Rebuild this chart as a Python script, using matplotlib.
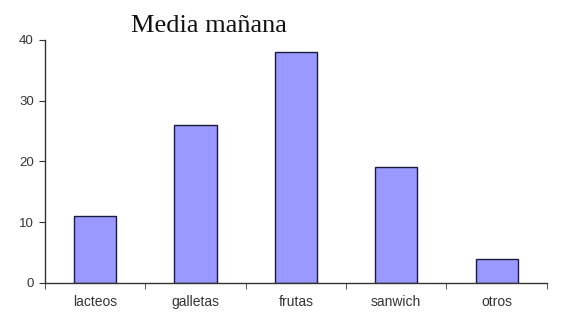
import matplotlib
matplotlib.use("Agg")
import matplotlib.pyplot as plt
import numpy as np

# datos
categorias = ["lacteos", "galletas", "frutas", "sanwich", "otros"]
valores = [11, 26, 38, 19, 4]
marcas_y = [0, 10, 20, 30, 40]

fig = plt.figure(figsize=(5.62, 3.19), dpi=100)
ax = fig.add_axes([0.08, 0.113, 0.893, 0.762])

x = np.arange(len(categorias))
ax.bar(x, valores, width=0.42, color="#9999ff", edgecolor="#1a1a40", linewidth=1.0)

ax.set_xlim(-0.5, len(categorias) - 0.5)
ax.set_ylim(0, 40)
ax.set_yticks(marcas_y)
ax.set_yticklabels([str(v) for v in marcas_y], fontsize=9.5, family="Liberation Sans", color="#333333")
ax.set_xticks(x)
ax.set_xticklabels(categorias, fontsize=10, family="Liberation Sans", color="#333333")
ax.tick_params(axis="x", length=0, pad=9)
ax.set_xticks(np.arange(-0.5, len(categorias)), minor=True)
ax.tick_params(axis="x", which="minor", length=4, direction="out", color="#333333")
ax.tick_params(axis="y", length=4, direction="out", color="#333333", pad=4)

for s in ["top", "right"]:
    ax.spines[s].set_visible(False)
for s in ["left", "bottom"]:
    ax.spines[s].set_color("#333333")
    ax.spines[s].set_linewidth(1.0)

fig.text(0.372, 0.92, "Media mañana", ha="center", va="center",
         fontsize=19, family="Liberation Serif", color="#111111")

fig.savefig("out.png", dpi=100)
